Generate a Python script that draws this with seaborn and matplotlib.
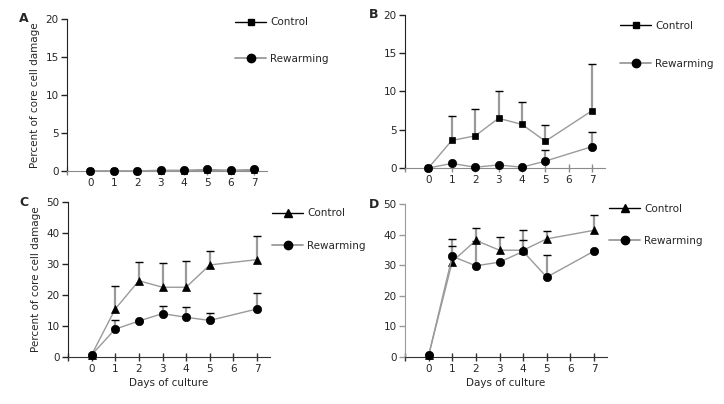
import numpy as np
import pandas as pd
import matplotlib
matplotlib.use('Agg')
import matplotlib.pyplot as plt
import seaborn as sns
from matplotlib.lines import Line2D

sns.set_style('ticks')
plt.rcParams['font.family'] = ['DejaVu Sans']
plt.rcParams['font.size'] = 7.5

# Panel A (days 0-7)
days_a = [0, 1, 2, 3, 4, 5, 6, 7]
ctrl_a = [0, 0, 0, 0, 0, 0.1, 0, 0.1]
ctrl_a_err = [0, 0, 0, 0, 0, 0, 0, 0]
rew_a = [0, 0, 0, 0.1, 0.1, 0.2, 0.1, 0.2]
rew_a_err = [0, 0, 0, 0, 0, 0, 0, 0]

# Panels B-D (no day 6)
days = [0, 1, 2, 3, 4, 5, 7]
ctrl_b = [0, 3.6, 4.2, 6.5, 5.7, 3.5, 7.5]
ctrl_b_err = [0, 3.2, 3.5, 3.6, 2.9, 2.1, 6.1]
rew_b = [0, 0.6, 0.1, 0.4, 0.1, 0.9, 2.8]
rew_b_err = [0, 0, 0, 0, 0, 1.4, 1.9]

ctrl_c = [0.7, 15.5, 24.6, 22.5, 22.5, 29.7, 31.4]
ctrl_c_err = [0, 7.3, 5.9, 7.7, 8.5, 4.5, 7.5]
rew_c = [0.7, 9.0, 11.6, 14.0, 12.8, 11.8, 15.5]
rew_c_err = [0, 2.9, 0, 2.6, 3.4, 2.4, 5.2]

ctrl_d = [0.5, 31.2, 38.1, 34.9, 34.9, 38.6, 41.4]
ctrl_d_err = [0, 7.5, 4.1, 4.4, 6.6, 2.5, 4.9]
rew_d = [0.5, 32.9, 29.8, 31.0, 34.5, 26.1, 34.6]
rew_d_err = [0, 3.5, 8.0, 0, 3.7, 7.1, 0]

W, H = 724, 404
fig = plt.figure(figsize=(W / 100, H / 100), dpi=100)


def px_axes(x0, y0, x1, y1):
    return fig.add_axes([x0 / W, 1 - y1 / H, (x1 - x0) / W, (y1 - y0) / H])


LINE = '#9a9a9a'


def draw_series(ax, x, y, err, marker, ms):
    df = pd.DataFrame({'day': x, 'value': y})
    up = np.array(err)
    eb = ax.errorbar(x, y, yerr=[np.zeros_like(up), up], fmt='none',
                     ecolor=LINE, elinewidth=1.6, capsize=2.6, capthick=1,
                     zorder=2, clip_on=False)
    caps = eb[1]
    if len(caps) == 2:
        caps[0].set_visible(False)
        caps[1].set_color('black')
        caps[1].set_markeredgecolor('black')
    sns.lineplot(data=df, x='day', y='value', ax=ax, color=LINE, lw=1,
                 marker=marker, markersize=ms, markerfacecolor='black',
                 markeredgecolor='black', markeredgewidth=0.5,
                 errorbar=None, clip_on=False, zorder=3)


def style_axes(ax, ymax, ystep, left_col, bottom_col):
    ax.set_xlim(-1, 7.55)
    ax.set_ylim(0, ymax)
    ax.set_xticks(range(-1, 8))
    ax.set_xticklabels([''] + [str(i) for i in range(8)])
    ax.set_yticks(np.arange(0, ymax + 1, ystep))
    sns.despine(ax=ax)
    ax.spines['left'].set_color(left_col)
    ax.spines['bottom'].set_color(bottom_col)
    ax.tick_params(axis='y', direction='out', length=4, width=1,
                   color=left_col, pad=2, labelsize=7.5)
    ax.tick_params(axis='x', direction='inout', length=6, width=1,
                   color=bottom_col, pad=2, labelsize=7.5)
    ax.set_xlabel('')
    ax.set_ylabel('')


def add_legend(ax, ctrl_marker, anchor, spacing):
    handles = [
        Line2D([], [], color='black', lw=1, marker=ctrl_marker,
               markersize=4.5 if ctrl_marker == 's' else 5.5,
               markerfacecolor='black', markeredgecolor='black'),
        Line2D([], [], color=LINE, lw=1.3, marker='o', markersize=6,
               markerfacecolor='black', markeredgecolor='black'),
    ]
    ax.legend(handles, ['Control', 'Rewarming'], loc='upper left',
              bbox_to_anchor=anchor, frameon=False, fontsize=7.5,
              handlelength=3.0, handletextpad=0.35, labelspacing=spacing,
              borderpad=0, borderaxespad=0)


# Panel A
axA = px_axes(67, 19, 267, 171)
draw_series(axA, days_a, ctrl_a, ctrl_a_err, 's', 4.5)
draw_series(axA, days_a, rew_a, rew_a_err, 'o', 6)
style_axes(axA, 20, 5, '#222222', '#8a8a8a')
add_legend(axA, 's', (0.84, 1.01), 2.55)
axA.set_ylabel('Percent of core cell damage', fontsize=7.5, labelpad=4)

# Panel B
axB = px_axes(405, 15, 605, 168)
draw_series(axB, days, ctrl_b, ctrl_b_err, 's', 4.5)
draw_series(axB, days, rew_b, rew_b_err, 'o', 6)
style_axes(axB, 20, 5, '#222222', '#8a8a8a')
add_legend(axB, 's', (1.075, 0.96), 2.65)

# Panel C
axC = px_axes(68, 202, 270, 357)
draw_series(axC, days, ctrl_c, ctrl_c_err, '^', 5.5)
draw_series(axC, days, rew_c, rew_c_err, 'o', 6)
style_axes(axC, 50, 10, '#222222', '#333333')
add_legend(axC, '^', (1.01, 0.96), 2.2)
axC.set_ylabel('Percent of core cell damage', fontsize=7.5, labelpad=4)
axC.set_xlabel('Days of culture', fontsize=7.5, labelpad=3)

# Panel D
axD = px_axes(405, 204, 607, 357)
draw_series(axD, days, ctrl_d, ctrl_d_err, '^', 5.5)
draw_series(axD, days, rew_d, rew_d_err, 'o', 6)
style_axes(axD, 50, 10, '#9a9a9a', '#333333')
add_legend(axD, '^', (1.01, 1.0), 2.1)
axD.set_xlabel('Days of culture', fontsize=7.5, labelpad=3)

# Panel letters
for ax, letter in [(axA, 'A'), (axB, 'B'), (axC, 'C'), (axD, 'D')]:
    ax.text(-0.24 if letter in 'AC' else -0.18, 1.0, letter,
            transform=ax.transAxes, fontsize=9, fontweight='bold',
            ha='left', va='center')

fig.savefig('out.png', dpi=100)
